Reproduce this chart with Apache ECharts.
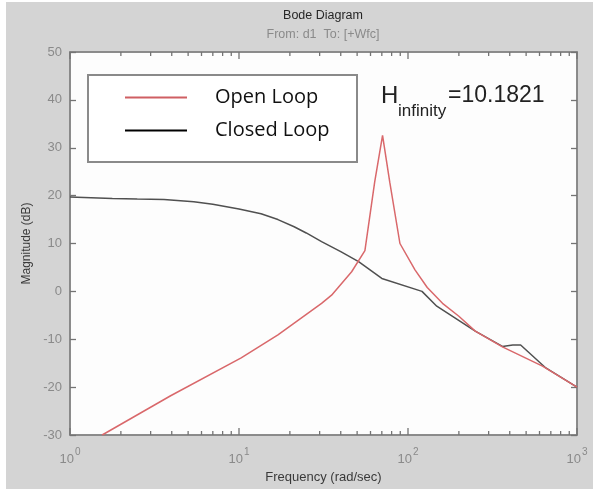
<!DOCTYPE html>
<html>
<head>
<meta charset="utf-8">
<script src="https://cdn.jsdelivr.net/npm/echarts@6/dist/echarts.min.js"></script>
<style>
  html, body { margin: 0; padding: 0; background: #ffffff; }
  #wrap { position: relative; width: 599px; height: 493px; background: #ffffff; }
  #chart { position: absolute; left: 6px; top: 2px; width: 587px; height: 487px; }
</style>
</head>
<body>
<div id="wrap"><div id="chart"></div></div>
<script>
// Open-loop magnitude response: frequency (rad/sec) and magnitude (dB)
const openFreq = [1.55, 3.94, 10.3, 17, 30.8, 35.3, 46.4, 55.6, 63.5, 70.7, 78, 89.6, 110, 130, 160, 200, 250, 362, 625, 1000];
const openMag  = [-30, -21.8, -13.9, -9.1, -2.5, -0.8, 4.1, 8.5, 22.8, 32.6, 22.8, 10, 4.5, 0.8, -2.5, -5.2, -8.3, -11.6, -15.6, -20];

// Closed-loop magnitude response
const closedFreq = [1, 1.78, 2.5, 3.6, 5.4, 7, 10, 13.5, 17, 21.2, 25, 30.8, 40, 51, 70, 121, 148, 250, 362, 417, 464, 654, 1000];
const closedMag  = [19.7, 19.4, 19.3, 19.2, 18.7, 18.2, 17.2, 16.2, 15, 13.5, 12.2, 10.4, 8.3, 6.2, 2.7, 0, -3.1, -8.3, -11.5, -11.2, -11.2, -16, -20];

// Axis ranges and tick values
const magTicks = [-30, -20, -10, 0, 10, 20, 30, 40, 50];
const freqDecades = [1, 10, 100, 1000];
const freqMinor = [2, 3, 4, 5, 6, 7, 8, 9, 20, 30, 40, 50, 60, 70, 80, 90, 200, 300, 400, 500, 600, 700, 800, 900];

const seriesNames = ['Open Loop', 'Closed Loop'];
const titleText = 'Bode Diagram';
const subtitleText = 'From: d1  To: [+Wfc]';
const hinfValue = '=10.1821';

const zip = (xs, ys) => xs.map((x, i) => [x, ys[i]]);

const frameColor = '#858585';
const tickColor = '#747474';
const labelColor = '#8a8a8a';
const font = '"Liberation Sans", Arial, sans-serif';
const supers = { 0: '0', 1: '1', 2: '2', 3: '3' };

const chart = echarts.init(document.getElementById('chart'), null, { renderer: 'canvas' });

const yMin = magTicks[0], yMax = magTicks[magTicks.length - 1];
const xMin = freqDecades[0], xMax = freqDecades[freqDecades.length - 1];

const edgeAxisLine = { show: true, onZero: false, lineStyle: { color: frameColor, width: 1.5 } };

// short inward tick marks along the bottom and top edges (decades long, subdivisions short)
const freqTickSeries = (yVal, dir) => ({
  type: 'custom',
  silent: true,
  clip: false,
  z: 5,
  data: freqDecades.map(f => [f, yVal, 7]).concat(freqMinor.map(f => [f, yVal, 4])),
  encode: { x: 0, y: 1 },
  renderItem: (params, api) => {
    const p = api.coord([api.value(0), api.value(1)]);
    const len = api.value(2);
    return {
      type: 'line',
      shape: { x1: p[0], y1: p[1], x2: p[0], y2: p[1] + dir * len },
      style: { stroke: tickColor, lineWidth: 1.3 }
    };
  }
});

const option = {
  backgroundColor: '#d4d4d4',
  animation: false,
  grid: {
    left: 64, top: 50, width: 507, height: 385,
    show: true, backgroundColor: '#fdfdfd', borderColor: frameColor, borderWidth: 1.5
  },
  legend: {
    orient: 'vertical',
    left: 119, top: 79,
    z: 8,
    icon: 'rect',
    itemWidth: 62, itemHeight: 2,
    itemGap: 0,
    padding: 0,
    data: [
      { name: seriesNames[0], itemStyle: { color: '#cf5f63' } },
      { name: seriesNames[1], itemStyle: { color: '#000000' } }
    ],
    textStyle: {
      fontFamily: '"Open Sans", "Noto Sans", sans-serif',
      fontSize: 20, color: '#111', lineHeight: 33,
      padding: [0, 0, 0, 23]
    },
    selectedMode: false
  },
  xAxis: [
    {
      type: 'log', logBase: 10, min: xMin, max: xMax,
      name: 'Frequency (rad/sec)', nameLocation: 'middle', nameGap: 36,
      nameTextStyle: { fontFamily: font, fontSize: 13, color: '#3a3a3a' },
      axisLine: edgeAxisLine,
      axisTick: { show: false },
      splitLine: { show: false },
      axisLabel: {
        margin: 10,
        formatter: v => '{b|10}{s|' + supers[Math.round(Math.log10(v))] + '}',
        rich: {
          b: { fontFamily: font, fontSize: 13, color: labelColor, padding: [8, 0, 0, 0] },
          s: { fontFamily: font, fontSize: 10, color: labelColor, padding: [0, 0, 6, 1] }
        }
      }
    },
    {
      type: 'log', logBase: 10, min: xMin, max: xMax, position: 'top',
      axisLine: edgeAxisLine,
      axisTick: { show: false },
      axisLabel: { show: false }, splitLine: { show: false }
    }
  ],
  yAxis: [
    {
      type: 'value', min: yMin, max: yMax, interval: 10,
      name: 'Magnitude (dB)', nameLocation: 'middle', nameGap: 34,
      nameTextStyle: { fontFamily: font, fontSize: 12, color: '#3a3a3a' },
      axisLine: edgeAxisLine,
      axisTick: { show: true, inside: true, length: 6, lineStyle: { color: tickColor, width: 1.3 } },
      splitLine: { show: false },
      axisLabel: { margin: 8, fontFamily: font, fontSize: 13, color: labelColor }
    },
    {
      type: 'value', min: yMin, max: yMax, interval: 10, position: 'right',
      axisLine: edgeAxisLine,
      axisTick: { show: true, inside: true, length: 6, lineStyle: { color: tickColor, width: 1.3 } },
      axisLabel: { show: false }, splitLine: { show: false }
    }
  ],
  series: [
    freqTickSeries(yMin, -1),
    freqTickSeries(yMax, 1),
    {
      name: seriesNames[0], type: 'line', data: zip(openFreq, openMag),
      symbol: 'none', lineStyle: { color: '#d9686b', width: 1.5 }, itemStyle: { color: '#d9686b' },
      z: 3
    },
    {
      name: seriesNames[1], type: 'line', data: zip(closedFreq, closedMag),
      symbol: 'none', lineStyle: { color: '#505050', width: 1.5 }, itemStyle: { color: '#505050' },
      z: 2
    }
  ],
  graphic: [
    {
      type: 'text', x: 317, y: 14, z: 10,
      style: { text: titleText, fontFamily: font, fontSize: 12.5, fill: '#262626', align: 'center', verticalAlign: 'middle' }
    },
    {
      type: 'text', x: 317, y: 33, z: 10,
      style: { text: subtitleText, fontFamily: font, fontSize: 12.5, fill: '#8a8a8a', align: 'center', verticalAlign: 'middle' }
    },
    {
      // legend frame
      type: 'rect', z: 6,
      shape: { x: 82, y: 73, width: 269, height: 87 },
      style: { fill: '#ffffff', stroke: '#8a8a8a', lineWidth: 2 }
    },
    {
      type: 'text', x: 375, y: 94, z: 10,
      style: { text: 'H', fontFamily: font, fontSize: 24, fill: '#222', align: 'left', verticalAlign: 'middle' }
    },
    {
      type: 'text', x: 392, y: 109, z: 10,
      style: { text: 'infinity', fontFamily: font, fontSize: 17, fill: '#222', align: 'left', verticalAlign: 'middle' }
    },
    {
      type: 'text', x: 442, y: 94, z: 10,
      style: { text: hinfValue, fontFamily: font, fontSize: 23, fill: '#222', align: 'left', verticalAlign: 'middle' }
    }
  ]
};

chart.setOption(option);
</script>
</body>
</html>
